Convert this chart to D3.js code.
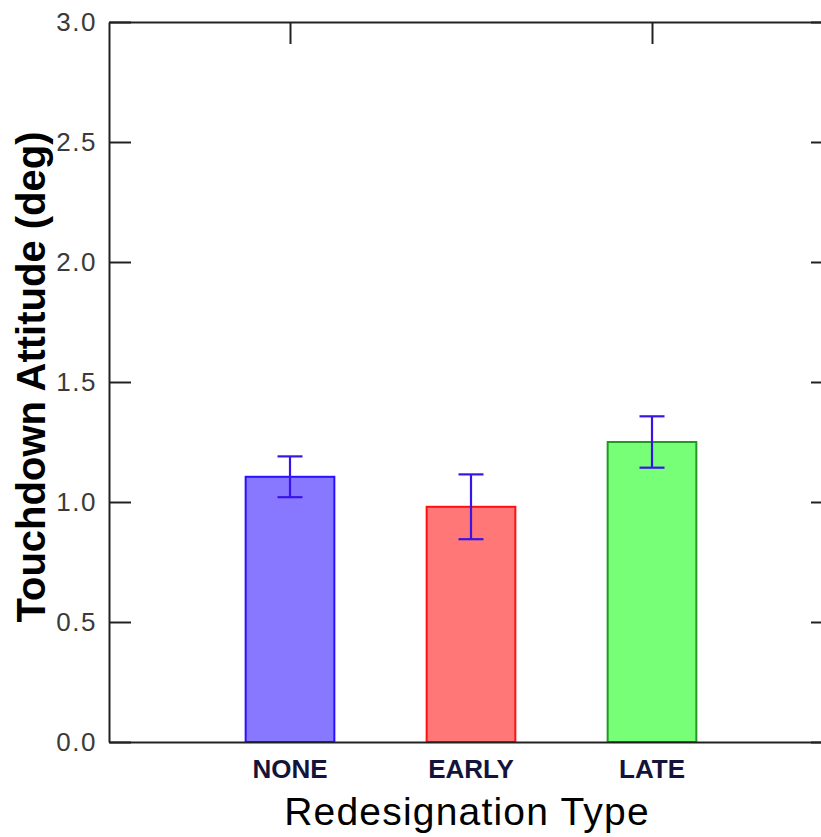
<!DOCTYPE html>
<html>
<head>
<meta charset="utf-8">
<script src="https://cdn.jsdelivr.net/npm/d3@7"></script>
<style>
  body { margin: 0; background: #fff; }
  svg { display: block; }
</style>
</head>
<body>
<div id="chart"></div>
<script>
// Touchdown attitude by redesignation type, mean +/- error
var categories = ['NONE', 'EARLY', 'LATE'];
var positions = [1, 2, 3];
var means = [1.105, 0.98, 1.25];
var errors = [0.085, 0.135, 0.107];
var yTicks = [0, 0.5, 1.0, 1.5, 2.0, 2.5, 3.0];
var topTicks = [1, 3];
var fills = ['#8878ff', '#ff7777', '#78ff78'];
var strokes = ['#2a10ff', '#ff1010', '#229a22'];

var width = 821,
  height = 837,
  marginLeft = 109,
  marginTop = 22,
  plotBottom = 742,
  unit = 181,
  tickLen = 22;

var svg = d3.select('#chart').append('svg')
  .attr('width', width)
  .attr('height', height);

var x = d3.scaleLinear()
  .domain([0, 4])
  .range([marginLeft, marginLeft + 4 * unit]);

var y = d3.scaleLinear()
  .domain([0, 3])
  .range([plotBottom, marginTop]);

var data = categories.map(function(c, i) {
  return { cat: c, pos: positions[i], val: means[i], err: errors[i], fill: fills[i], stroke: strokes[i] };
});

// frame: left, right, top, bottom
function styleAxis(g) {
  g.selectAll('.domain').attr('stroke', '#222').attr('stroke-width', 2);
  g.selectAll('.tick line').attr('stroke', '#222').attr('stroke-width', 2);
  g.selectAll('.tick text')
    .attr('fill', '#3a3a3a')
    .style('font-family', '"Liberation Sans", Arial, sans-serif')
    .style('font-size', '26px')
    .style('letter-spacing', '1.5px');
}

svg.append('g')
  .attr('transform', 'translate(' + marginLeft + ',0)')
  .call(d3.axisLeft(y).tickValues(yTicks).tickSize(-tickLen).tickSizeOuter(0).tickPadding(12)
    .tickFormat(d3.format('.1f')))
  .call(styleAxis);

svg.append('g')
  .attr('transform', 'translate(' + x(4) + ',0)')
  .call(d3.axisRight(y).tickValues(yTicks).tickSize(-tickLen).tickSizeOuter(0).tickFormat(''))
  .call(styleAxis);

svg.append('g')
  .attr('transform', 'translate(0,' + marginTop + ')')
  .call(d3.axisTop(x).tickValues(topTicks).tickSize(-tickLen).tickSizeOuter(0).tickFormat(''))
  .call(styleAxis);

// bars
var bw = 0.49;
svg.append('g').selectAll('rect')
  .data(data)
  .enter()
  .append('rect')
  .attr('x', function(d) { return x(d.pos - bw / 2); })
  .attr('y', function(d) { return y(d.val); })
  .attr('width', function(d) { return x(bw) - x(0); })
  .attr('height', function(d) { return y(0) - y(d.val); })
  .attr('fill', function(d) { return d.fill; })
  .attr('stroke', function(d) { return d.stroke; })
  .attr('stroke-width', 2);

// bottom axis line drawn over the bar bases
svg.append('g')
  .attr('transform', 'translate(0,' + plotBottom + ')')
  .call(d3.axisBottom(x).tickValues([]).tickSizeOuter(0))
  .call(styleAxis);

// error bars
var cap = 12.5;
var eb = svg.append('g').attr('stroke', '#3a14e6').attr('stroke-width', 2.2);
data.forEach(function(d) {
  var cx = x(d.pos);
  eb.append('line')
    .attr('x1', cx).attr('x2', cx)
    .attr('y1', y(d.val + d.err)).attr('y2', y(d.val - d.err));
  eb.append('line')
    .attr('x1', cx - cap).attr('x2', cx + cap)
    .attr('y1', y(d.val + d.err)).attr('y2', y(d.val + d.err));
  eb.append('line')
    .attr('x1', cx - cap).attr('x2', cx + cap)
    .attr('y1', y(d.val - d.err)).attr('y2', y(d.val - d.err));
});

// category labels
svg.append('g').selectAll('text')
  .data(data)
  .enter()
  .append('text')
  .attr('x', function(d) { return x(d.pos); })
  .attr('y', 778)
  .attr('text-anchor', 'middle')
  .attr('fill', '#14143a')
  .style('font-family', '"Liberation Sans", Arial, sans-serif')
  .style('font-weight', 'bold')
  .style('font-size', '26px')
  .text(function(d) { return d.cat; });

// axis titles
svg.append('text')
  .attr('x', 467)
  .attr('y', 825)
  .attr('text-anchor', 'middle')
  .attr('fill', '#000')
  .style('font-family', '"Liberation Sans", Arial, sans-serif')
  .style('font-size', '39px')
  .style('letter-spacing', '1.2px')
  .text('Redesignation Type');

svg.append('text')
  .attr('transform', 'translate(45,377) rotate(-90)')
  .attr('text-anchor', 'middle')
  .attr('fill', '#000')
  .style('font-family', '"Liberation Sans", Arial, sans-serif')
  .style('font-weight', 'bold')
  .style('font-size', '40px')
  .text('Touchdown Attitude (deg)');
</script>
</body>
</html>
